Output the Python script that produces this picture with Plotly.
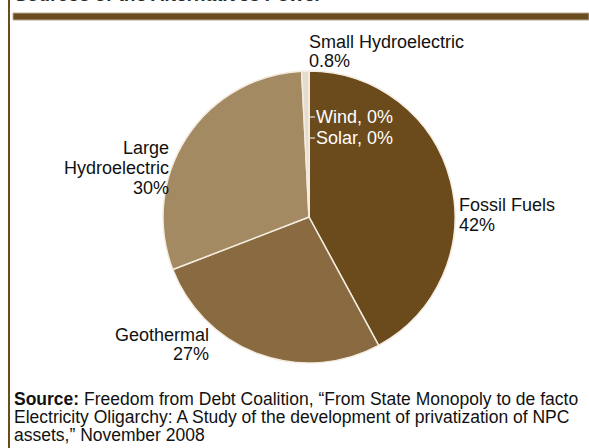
import plotly.graph_objects as go

W, H = 589, 448

labels = ["Fossil Fuels", "Geothermal", "Large Hydroelectric", "Small Hydroelectric", "Wind", "Solar"]
values = [42, 27, 30, 0.8, 0, 0]
value_text = ["42%", "27%", "30%", "0.8%", "0%", "0%"]
colors = ["#6b4a1c", "#8a6a40", "#a48a63", "#e4dccd", "#ffffff", "#ffffff"]
title_text = "Sources of the Alternatives Power"
source_lines = [
    "<b>Source:</b> Freedom from Debt Coalition, \u201cFrom State Monopoly to de facto",
    "Electricity Oligarchy: A Study of the development of privatization of NPC",
    "assets,\u201d November 2008",
]

BROWN = "#6b4c1f"
FONT = "Liberation Sans, Arial, sans-serif"

def px(x):
    return x / W

def py(y):
    return 1 - y / H

cx, cy, r = 309, 217, 146

fig = go.Figure(go.Pie(
    labels=labels,
    values=values,
    sort=False,
    direction="clockwise",
    rotation=0,
    textinfo="none",
    hoverinfo="label+percent",
    marker=dict(colors=colors, line=dict(color="#f3ecdf", width=1.5)),
    domain=dict(x=[px(cx - r), px(cx + r)], y=[py(cy + r), py(cy - r)]),
    showlegend=False,
))

fs = 18
anns = []

def lab(text, x, y, xanchor, color="#111", size=fs):
    anns.append(dict(text=text, x=px(x), y=py(y), xref="paper", yref="paper",
                     xanchor=xanchor, yanchor="middle", showarrow=False,
                     align=xanchor,
                     font=dict(family=FONT, size=size, color=color)))

def block(lines, x, y0, step, xanchor, **kw):
    for i, t in enumerate(lines):
        lab(t, x, y0 + step * i, xanchor, **kw)

block([labels[3], value_text[3]], 307, 42, 19, "left")
block(["Large", "Hydroelectric", value_text[2]], 171, 148, 20, "right")
block([labels[1], value_text[1]], 211, 335, 19, "right")
block([labels[0], value_text[0]], 457, 205, 20, "left")
lab(f"{labels[4]}, {value_text[4]}", 314, 117, "left", color="#ffffff")
lab(f"{labels[5]}, {value_text[5]}", 314, 138, "left", color="#ffffff")

block(source_lines, 12, 399, 18, "left", size=17.5)

# clipped title at the top
anns.append(dict(text=f"<b><i>{title_text}</i></b>", x=px(13), y=py(7),
                 xref="paper", yref="paper", xanchor="left", yanchor="bottom",
                 showarrow=False, font=dict(family=FONT, size=19, color="#2a2a2a")))

shapes = [
    dict(type="line", xref="paper", yref="paper", x0=px(9), x1=px(9), y0=0, y1=1,
         line=dict(color=BROWN, width=2)),
    dict(type="rect", xref="paper", yref="paper", x0=px(13), x1=1, y0=py(20), y1=py(13),
         fillcolor=BROWN, line=dict(color="#b8a88c", width=1)),
    dict(type="line", xref="paper", yref="paper", x0=px(310), x1=px(315), y0=py(117), y1=py(117),
         line=dict(color="#ffffff", width=1)),
    dict(type="line", xref="paper", yref="paper", x0=px(310), x1=px(315), y0=py(138), y1=py(138),
         line=dict(color="#ffffff", width=1)),
]

fig.update_layout(
    width=W, height=H,
    margin=dict(l=0, r=0, t=0, b=0),
    paper_bgcolor="#ffffff",
    plot_bgcolor="#ffffff",
    annotations=anns,
    shapes=shapes,
)

fig.write_html("out.html", config={"displayModeBar": False},
               post_script="document.body.style.margin='0';document.body.style.overflow='hidden';")
